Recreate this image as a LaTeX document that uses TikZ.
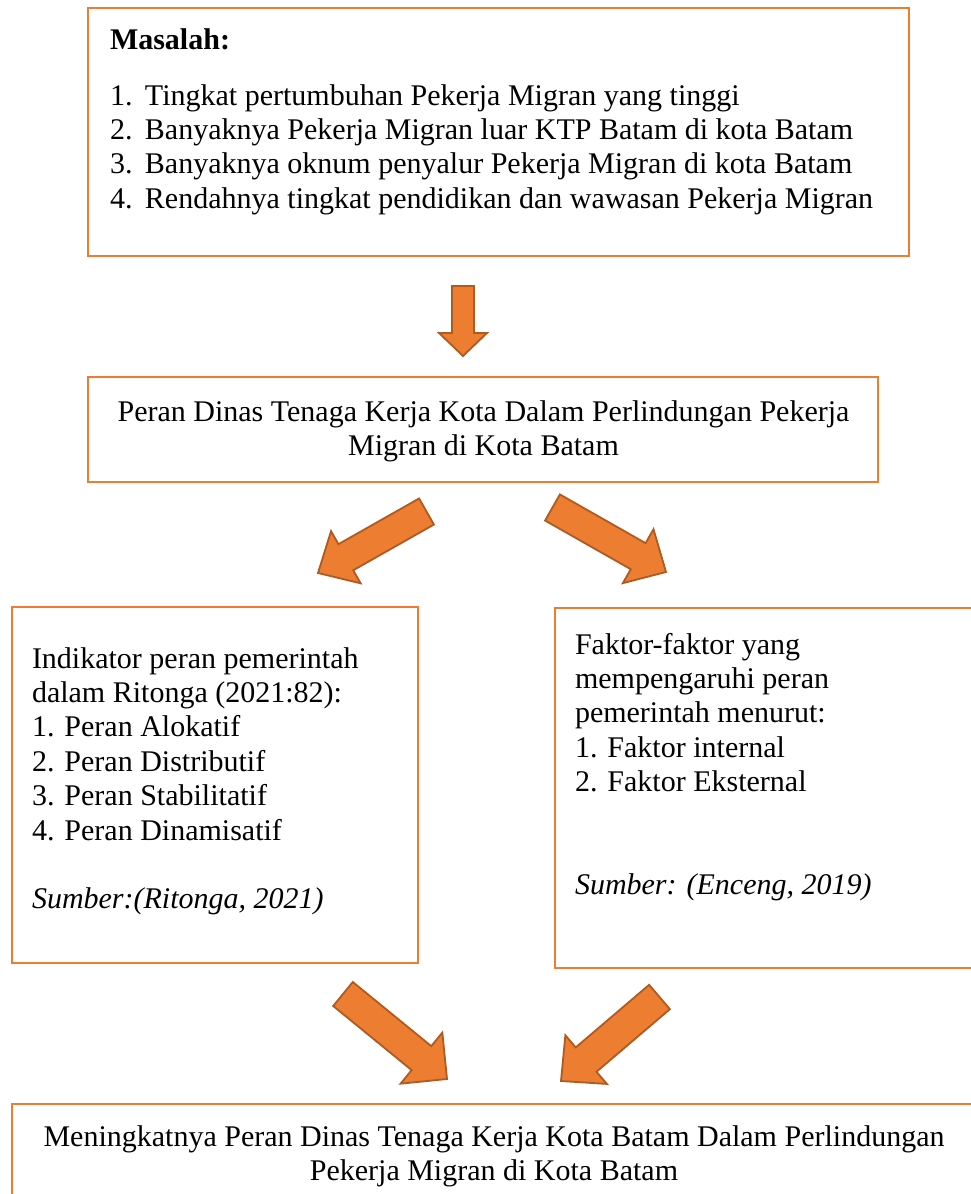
\documentclass[tikz,border=0pt]{standalone}
\usepackage{fontspec}
\setmainfont{Liberation Serif}
\usetikzlibrary{calc}
\definecolor{borange}{HTML}{ED7D31}
\definecolor{dorange}{HTML}{AE5A21}
\tikzset{
  boxst/.style={draw=borange, line width=2pt, inner sep=0pt, outer sep=0pt, anchor=north west},
  txt/.style={inner sep=0pt, outer sep=0pt, font=\fontsize{30}{34.4}\selectfont},
  blockarrow/.style={fill=borange, draw=dorange, line width=1.8pt, line join=miter},
}
% #1 start, #2 tip, #3 half shaft width, #4 half head width, #5 head length
\newcommand{\blockarr}[5]{%
  \coordinate (ba-n) at ($(#2)!#5!(#1)$);
  \draw[blockarrow] ($(#1)!#3!90:(#2)$) -- ($(ba-n)!#3!-90:(#1)$) -- ($(ba-n)!#4!-90:(#1)$)
     -- (#2) -- ($(ba-n)!#4!90:(#1)$) -- ($(ba-n)!#3!90:(#1)$) -- ($(#1)!#3!-90:(#2)$) -- cycle;
}
\begin{document}
\begin{tikzpicture}[x=1pt,y=-1pt]
\useasboundingbox (0,0) rectangle (971,1194);
\clip (0,0) rectangle (971,1194);
\fill[white] (0,0) rectangle (971,1194);

% boxes
\node[boxst, minimum width=821pt, minimum height=248pt] (masalah) at (88,8) {};
\node[boxst, minimum width=790pt, minimum height=105pt] (peran) at (88,377) {};
\node[boxst, minimum width=406pt, minimum height=356pt] (indikator) at (12,607) {};
\node[boxst, minimum width=440pt, minimum height=360pt] (faktor) at (555,608) {};
\node[boxst, minimum width=990pt, minimum height=120pt] (hasil) at (12,1104) {};

% texts
\node[txt, anchor=north west, align=left] (masalahjudul) at (110,24.92) {\strut\textbf{Masalah:}};
\node[txt, anchor=north west, align=left] (masalahlist) at (110,80.92) {%
  \strut\makebox[35pt][l]{1.}Tingkat pertumbuhan Pekerja Migran yang tinggi\\
  \makebox[35pt][l]{2.}Banyaknya Pekerja Migran luar KTP Batam di kota Batam\\
  \makebox[35pt][l]{3.}Banyaknya oknum penyalur Pekerja Migran di kota Batam\\
  \makebox[35pt][l]{4.}Rendahnya tingkat pendidikan dan wawasan Pekerja Migran};
\node[txt, anchor=north, align=center] (perantxt) at (483.5,396.92) {%
  \strut Peran Dinas Tenaga Kerja Kota Dalam Perlindungan Pekerja\\
  Migran di Kota Batam};
\node[txt, anchor=north west, align=left] (indikatortxt) at (32,643.92) {%
  \strut Indikator peran pemerintah\\
  dalam Ritonga (2021:82):\\
  1. Peran Alokatif\\
  2. Peran Distributif\\
  3. Peran Stabilitatif\\
  4. Peran Dinamisatif\\[34.4pt]
  \textit{Sumber:(Ritonga, 2021)}};
\node[txt, anchor=north west, align=left] (faktortxt) at (575,629.92) {%
  \strut Faktor-faktor yang\\
  mempengaruhi peran\\
  pemerintah menurut:\\
  1. Faktor internal\\
  2. Faktor Eksternal\\[68.8pt]
  \textit{Sumber: (Enceng, 2019)}};
\node[txt, anchor=north, align=center] (hasiltxt) at (494,1121.92) {%
  \strut Meningkatnya Peran Dinas Tenaga Kerja Kota Batam Dalam Perlindungan\\
  Pekerja Migran di Kota Batam};

% block arrows
\coordinate (a1s) at (463,286);   \coordinate (a1e) at (463,356);
\coordinate (a2s) at (426.5,511.5); \coordinate (a2e) at (318,573);
\coordinate (a3s) at (552.5,507.5); \coordinate (a3e) at (666,572);
\coordinate (a4s) at (343,994);   \coordinate (a4e) at (447,1079);
\coordinate (a5s) at (659.5,997); \coordinate (a5e) at (561,1081);
\blockarr{a1s}{a1e}{11pt}{24pt}{23pt}
\blockarr{a2s}{a2e}{15pt}{30pt}{32pt}
\blockarr{a3s}{a3e}{15pt}{31pt}{32pt}
\blockarr{a4s}{a4e}{15.5pt}{33pt}{33pt}
\blockarr{a5s}{a5e}{16pt}{32pt}{33pt}
\end{tikzpicture}
\end{document}
